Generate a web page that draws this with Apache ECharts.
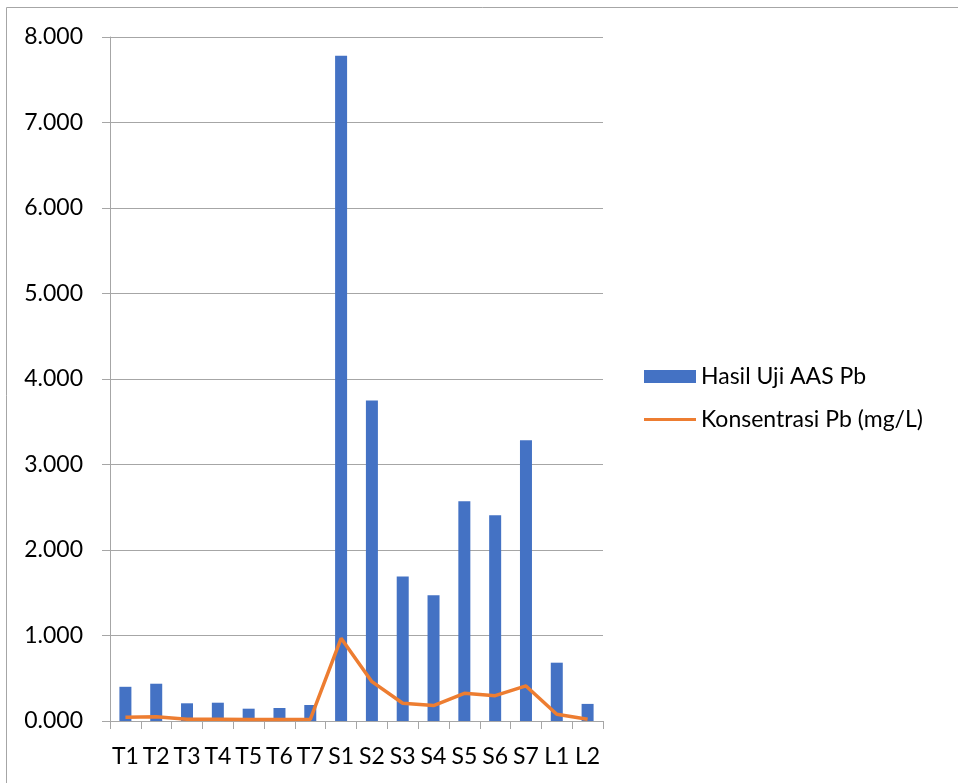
<!DOCTYPE html>
<html>
<head>
<meta charset="utf-8">
<script src="https://cdn.jsdelivr.net/npm/echarts@6/dist/echarts.min.js"></script>
<style>html,body{margin:0;padding:0;background:#fff}#c{width:958px;height:783px}</style>
</head>
<body>
<div id="c"></div>
<script>
const categories = ['T1','T2','T3','T4','T5','T6','T7','S1','S2','S3','S4','S5','S6','S7','L1','L2'];
const hasilUji = [0.40,0.436,0.207,0.214,0.144,0.152,0.187,7.78,3.75,1.69,1.47,2.57,2.405,3.283,0.682,0.20];
const konsentrasi = [0.045,0.05,0.02,0.02,0.017,0.017,0.02,0.967,0.46,0.207,0.18,0.324,0.296,0.41,0.078,0.02];
const seriesNames = ['Hasil Uji AAS Pb','Konsentrasi Pb (mg/L)'];
const yTicks = {min:0, max:8, interval:1};

const FONT = 'Lato';
const chart = echarts.init(document.getElementById('c'));
chart.setOption({
  animation:false,
  backgroundColor:'#fff',
  textStyle:{fontFamily:FONT},
  graphic:[{type:'rect', shape:{x:6.5,y:7.5,width:1200,height:1200}, style:{fill:'none',stroke:'#a6a6a6',lineWidth:1}, silent:true}],
  grid:{left:110,right:355,top:37,bottom:62},
  legend:{
    orient:'vertical', left:639, top:360, itemWidth:52, itemHeight:13, itemGap:20,
    textStyle:{fontFamily:FONT,fontSize:23,color:'#000'},
    data:[
      {name:seriesNames[0],icon:'rect'},
      {name:seriesNames[1],icon:'path://M0,0 M0,13 M0,5 L52,5 L52,8 L0,8 Z'}
    ]
  },
  xAxis:{
    type:'category', data:categories, boundaryGap:true,
    axisLine:{lineStyle:{color:'#a6a6a6',width:1}},
    axisTick:{show:true,length:8,lineStyle:{color:'#a6a6a6'}},
    axisLabel:{color:'#000',fontSize:23,fontFamily:FONT,margin:24,interval:0}
  },
  yAxis:{
    type:'value', min:yTicks.min, max:yTicks.max, interval:yTicks.interval,
    axisLine:{show:true,lineStyle:{color:'#a6a6a6',width:1}},
    axisTick:{show:true,length:8,lineStyle:{color:'#a6a6a6'}},
    splitLine:{show:true,lineStyle:{color:'#a6a6a6',width:1}},
    axisLabel:{color:'#000',fontSize:23,fontFamily:FONT,margin:27,formatter:v=>v.toFixed(3)}
  },
  series:[
    {name:seriesNames[0],type:'bar',data:hasilUji,barWidth:12,itemStyle:{color:'#4472C4'}},
    {name:seriesNames[1],type:'line',data:konsentrasi,symbol:'none',lineStyle:{color:'#ED7D31',width:3.5},itemStyle:{color:'#ED7D31'}}
  ]
});
</script>
</body>
</html>
